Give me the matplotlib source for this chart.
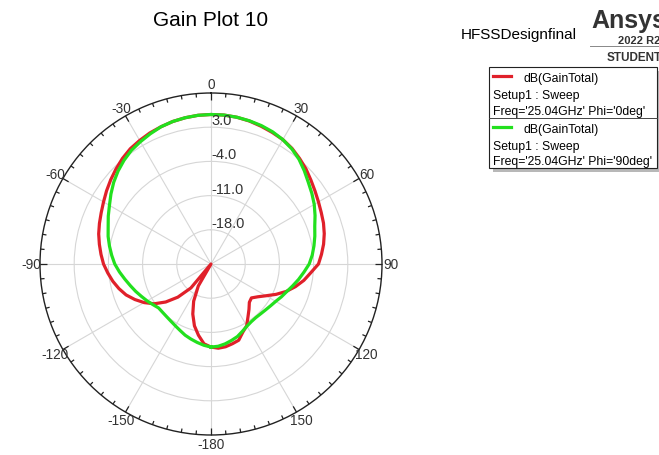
import numpy as np
import matplotlib.pyplot as plt
from matplotlib.patches import Rectangle
from matplotlib.lines import Line2D

plt.rcParams['font.family'] = ['Liberation Sans', 'DejaVu Sans']

# dB(GainTotal) at Phi = 0deg, theta in degrees (5 deg steps)
red_theta = list(range(-180, 181, 5))
red_gain = [-8.0, -8.6, -10.2, -11.9, -14.1, -16.6, -19.8, -25.0, -18.6, -15.4,   # -180 .. -135
            -12.9, -10.8, -9.2, -7.8, -6.5, -5.5, -4.6, -3.8, -3.0,               # -130 .. -90
            -2.4, -1.8, -1.2, -0.7, -0.2, 0.4, 1.1, 1.8, 2.5,                      # -85 .. -45
            3.2, 3.8, 4.2, 4.6, 4.9, 5.2, 5.4, 5.55, 5.6,                          # -40 .. 0
            5.6, 5.5, 5.3, 5.0, 4.7, 4.4, 3.9, 3.2, 2.5,                           # 5 .. 45
            1.7, 1.0, 0.4, -0.1, -0.5, -1.0, -1.6, -2.3, -3.0,                     # 50 .. 90
            -4.5, -5.7, -7.1, -8.6, -10.3, -12.0, -13.3, -14.2, -13.9,             # 95 .. 135
            -12.9, -11.8, -10.4, -9.6, -8.4, -8.1, -7.8, -7.7, -8.0]               # 140 .. 180

# dB(GainTotal) at Phi = 90deg
green_theta = list(range(-180, 181, 5))
green_gain = [-8.0, -8.3, -8.7, -9.1, -9.5, -10.0, -10.4, -10.7, -10.9, -11.0,    # -180 .. -135
              -11.0, -10.5, -9.9, -9.3, -8.6, -7.9, -7.1, -6.2, -5.3,             # -130 .. -90
              -4.6, -3.9, -3.2, -2.6, -1.8, -1.0, 0.0, 1.0, 1.9,                  # -85 .. -45
              2.7, 3.4, 3.9, 4.4, 4.9, 5.2, 5.4, 5.55, 5.6,                       # -40 .. 0
              5.6, 5.5, 5.35, 5.15, 4.85, 4.4, 3.8, 3.0, 2.0,                     # 5 .. 45
              1.0, 0.2, -0.6, -1.5, -2.4, -3.0, -3.6, -4.2, -4.9,                 # 50 .. 90
              -5.9, -6.8, -7.7, -8.5, -9.1, -9.7, -10.1, -10.4, -10.6,            # 95 .. 135
              -10.7, -10.6, -10.3, -9.8, -9.2, -8.8, -8.4, -8.1, -8.0]            # 140 .. 180

r_min, r_max = -25.0, 10.0
ring_levels = [-18.0, -11.0, -4.0, 3.0]
angle_labels = [0, 30, 60, 90, 120, 150, -180, -150, -120, -90, -60, -30]

W, H = 659, 456
fig = plt.figure(figsize=(W / 100, H / 100), dpi=100)

def fx(x):
    return x / W

def fy(y):
    return 1 - y / H

cx, cy, rad = 211, 265, 171
ax = fig.add_axes([fx(cx - rad), fy(cy + rad), 2 * rad / W, 2 * rad / H], projection='polar')
ax.set_theta_zero_location('N')
ax.set_theta_direction(-1)
ax.set_rlim(r_min, r_max)

ax.set_yticks(ring_levels)
ax.set_yticklabels([])
ax.set_xticks(np.deg2rad(np.arange(0, 360, 30)))
ax.set_xticklabels([])
ax.tick_params(axis='x', length=0)
ax.grid(True, color='#d6d6d6', linewidth=0.8)
ax.spines['polar'].set_color('#222222')
ax.spines['polar'].set_linewidth(1.0)

# inward ticks on the outer circle, every 5 deg, longer every 30 deg
for a in range(0, 360, 5):
    tl = 1.35 if a % 30 == 0 else 0.8
    ax.plot([np.deg2rad(a)] * 2, [r_max, r_max - tl], color='#222222', lw=0.9,
            clip_on=False, solid_capstyle='butt')

ax.plot(np.deg2rad(red_theta), np.clip(red_gain, r_min, r_max), color='#e0202a', lw=2.3)
ax.plot(np.deg2rad(green_theta), np.clip(green_gain, r_min, r_max), color='#22e01e', lw=2.3)

for lev in ring_levels:
    ax.text(0, lev, '%.1f' % lev, ha='left', va='bottom', fontsize=10.5, color='#333333')

for a in angle_labels:
    ax.text(np.deg2rad(a), r_max + 1.8, str(a), ha='center', va='center',
            fontsize=9.8, color='#333333', clip_on=False)

fig.text(fx(211), fy(20), 'Gain Plot 10', ha='center', va='center', fontsize=15)

# header block
fig.text(fx(461), fy(35), 'HFSSDesignfinal', ha='left', va='center', fontsize=11)
fig.text(fx(591), fy(21), 'Ansys', ha='left', va='center', fontsize=18, fontweight='bold',
         color='#333333')
fig.text(fx(618), fy(41), '2022 R2', ha='left', va='center', fontsize=8, fontweight='bold',
         color='#333333')
fig.add_artist(Line2D([fx(590), fx(659)], [fy(47), fy(47)], color='#888888', lw=0.7))
fig.text(fx(607), fy(58), 'STUDENT', ha='left', va='center', fontsize=8.5, fontweight='bold',
         color='#333333')

# legend box
bx0, by0, bx1, by1 = 489, 68, 657, 169
fig.add_artist(Rectangle((fx(bx0 + 4), fy(by1 + 4)), (bx1 - bx0) / W, (by1 - by0) / H,
                         facecolor='#b8b8b8', edgecolor='none'))
fig.add_artist(Rectangle((fx(bx0), fy(by1)), (bx1 - bx0) / W, (by1 - by0) / H,
                         facecolor='white', edgecolor='#222222', lw=0.8))
fig.add_artist(Line2D([fx(bx0), fx(bx1)], [fy(119), fy(119)], color='#444444', lw=0.7))

entries = [('#e0202a', "Freq='25.04GHz' Phi='0deg'", 77),
           ('#22e01e', "Freq='25.04GHz' Phi='90deg'", 128)]
for col, freq, y0 in entries:
    fig.add_artist(Line2D([fx(493), fx(511)], [fy(y0), fy(y0)], color=col, lw=2.3))
    fig.text(fx(523), fy(y0 + 2.5), 'dB(GainTotal)', ha='left', va='center', fontsize=8.8)
    fig.text(fx(493), fy(y0 + 19), 'Setup1 : Sweep', ha='left', va='center', fontsize=8.8)
    fig.text(fx(493), fy(y0 + 34.5), freq, ha='left', va='center', fontsize=8.8)

fig.savefig('out.png', dpi=100)
